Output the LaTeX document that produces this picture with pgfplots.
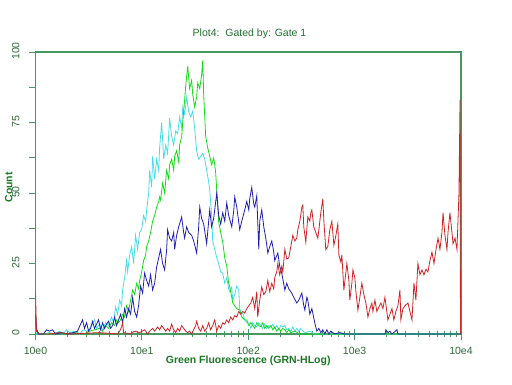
\documentclass[border=0pt]{standalone}
\usepackage{fontspec}
\setmainfont{Liberation Sans}
\usepackage{pgfplots}
\pgfplotsset{compat=1.18}
\definecolor{framecol}{RGB}{72,150,96}
\definecolor{tickcol}{RGB}{45,105,55}
\definecolor{titlecol}{RGB}{35,110,45}
\definecolor{labcol}{RGB}{25,120,35}
\definecolor{sgreen}{RGB}{20,220,20}
\definecolor{scyan}{RGB}{70,220,235}
\definecolor{sblue}{RGB}{30,30,175}
\definecolor{sred}{RGB}{205,35,35}
\newcommand{\fsz}{\fontsize{10.5pt}{12pt}\selectfont}
\begin{document}
\begin{tikzpicture}
\path[use as bounding box] (0pt,0pt) rectangle (512pt,384pt);
\begin{axis}[
  at={(35.5pt,50pt)}, anchor=south west,
  scale only axis, width=425.5pt, height=282pt,
  xmin=0, xmax=4, ymin=0, ymax=100,
  /pgf/number format/assume math mode=true,
  axis line style={draw=framecol, line width=1.2pt},
  xtick={0,1,2,3,4},
  xticklabels={10e0,10e1,10e2,10e3,10e4},
  minor xtick={0.301,0.477,0.602,0.699,0.778,0.845,0.903,0.954,
               1.301,1.477,1.602,1.699,1.778,1.845,1.903,1.954,
               2.301,2.477,2.602,2.699,2.778,2.845,2.903,2.954,
               3.301,3.477,3.602,3.699,3.778,3.845,3.903,3.954},
  ytick={0,25,50,75,100},
  minor ytick={12.5,37.5,62.5,87.5},
  xtick pos=bottom, ytick pos=left,
  xtick align=center, ytick align=outside,
  x tick style={draw=framecol, line width=0.8pt},
  y tick style={draw=framecol, line width=0.8pt},
  major tick length=6pt, minor tick length=6pt,
  extra x ticks={0,1,2,3,4},
  extra x tick labels={},
  extra x tick style={major tick length=11pt, tick align=center},
  xticklabel style={font=\fsz, text=tickcol, anchor=base, yshift=-17pt},
  yticklabel style={font=\fsz, text=tickcol, xshift=-10pt, yshift=1pt, rotate=90, anchor=base},
  title={Plot4:\ \ Gated by: Gate 1},
  title style={font=\fsz, text=titlecol, at={(axis description cs:0.503,1)}, anchor=base, yshift=10pt},
  xlabel={Green Fluorescence (GRN-HLog)},
  every axis x label/.style={at={(axis description cs:0.5,0)}, anchor=base, yshift=-29pt, font=\fsz\bfseries, text=labcol},
  ylabel={Count},
  every axis y label/.style={at={(axis description cs:0,0.52)}, xshift=-23pt, rotate=90, anchor=base, font=\fsz\bfseries, text=labcol},
]
% cyan
\addplot[color=scyan, line width=0.8pt] coordinates {
(0,3) (0.009,0) (0.085,0) (0.132,0.5) (0.179,0) (0.226,1) (0.254,0) (0.292,1.5) (0.320,0.5) (0.367,1)
(0.414,0) (0.452,1.5) (0.489,1) (0.527,3) (0.555,5) (0.574,2) (0.602,3.5) (0.631,1.5) (0.659,4) (0.687,3)
(0.715,6) (0.734,4) (0.753,9.6) (0.772,7) (0.791,12) (0.809,10) (0.819,15.6) (0.838,20) (0.856,26) (0.866,22)
(0.885,28) (0.904,31) (0.922,25) (0.941,35) (0.960,30) (0.979,36) (0.998,37) (1.016,42) (1.035,40) (1.045,44)
(1.064,50) (1.073,58) (1.092,52) (1.101,63) (1.120,55) (1.139,62) (1.158,58) (1.167,66) (1.186,75) (1.205,62)
(1.224,67) (1.242,64) (1.261,76.5) (1.280,70) (1.299,67) (1.318,72) (1.336,71) (1.355,77) (1.374,73) (1.384,80.5)
(1.402,78) (1.421,84) (1.440,79) (1.459,77) (1.478,79) (1.496,73) (1.515,65) (1.534,62) (1.553,63) (1.572,64)
(1.591,62) (1.609,58) (1.628,54) (1.638,51) (1.656,42) (1.666,33) (1.685,30) (1.704,27) (1.722,25) (1.741,22)
(1.760,21.6) (1.779,18) (1.798,20) (1.816,16) (1.826,15) (1.845,16.7) (1.854,12) (1.873,14) (1.892,17) (1.911,15.6)
(1.920,9) (1.929,7.8) (1.948,7.4) (1.967,5) (1.986,4) (2.005,3.9) (2.024,2) (2.042,4) (2.061,3) (2.080,2.5)
(2.099,4) (2.118,3) (2.136,2) (2.155,3.5) (2.174,2) (2.193,3) (2.212,2.5) (2.231,3.5) (2.249,2) (2.268,3)
(2.287,1.5) (2.306,3) (2.325,2.5) (2.344,3) (2.362,1.5) (2.381,2) (2.400,1) (2.419,2.5) (2.438,1) (2.456,2)
(2.475,1) (2.494,2) (2.513,1) (2.541,0.5) (2.579,1) (2.626,0) (4,0)
};
% green
\addplot[color=sgreen, line width=0.8pt] coordinates {
(0,8) (0.009,1) (0.038,0) (0.132,0) (0.226,0.5) (0.273,0) (0.367,0.5) (0.461,0) (0.508,1) (0.555,1.5)
(0.602,2) (0.631,1) (0.659,3) (0.687,2) (0.715,4) (0.744,3) (0.762,5) (0.781,4) (0.800,5) (0.819,7)
(0.838,6) (0.856,10) (0.875,8) (0.894,12) (0.913,15.6) (0.932,14) (0.951,18) (0.969,16) (0.979,19) (0.998,22)
(1.016,26) (1.035,28) (1.045,31) (1.064,33) (1.082,36) (1.101,40) (1.120,42) (1.139,45) (1.158,47) (1.167,48.6)
(1.176,47.5) (1.195,53.5) (1.214,50) (1.233,58) (1.252,55) (1.261,60) (1.280,62) (1.299,58) (1.308,63) (1.327,65)
(1.346,61) (1.355,67) (1.374,70) (1.384,75) (1.402,83) (1.412,88) (1.431,95) (1.449,87) (1.468,90) (1.478,85)
(1.496,80.5) (1.515,84) (1.525,89) (1.544,87) (1.562,92) (1.572,97) (1.581,85) (1.600,70) (1.619,66) (1.638,63)
(1.656,60) (1.675,62.4) (1.685,60) (1.694,57) (1.704,51) (1.713,45) (1.722,39.7) (1.741,36) (1.760,32.6) (1.779,27)
(1.798,24) (1.816,18) (1.826,16.7) (1.845,13) (1.854,11) (1.873,10) (1.892,9) (1.920,8.5) (1.939,6) (1.967,5)
(1.986,5) (2.005,3) (2.024,4) (2.042,3) (2.061,2) (2.080,4) (2.099,3) (2.118,2.5) (2.136,4) (2.155,2)
(2.174,3) (2.193,2) (2.212,3) (2.231,1.5) (2.249,2.5) (2.268,1) (2.287,2) (2.306,1) (2.325,2) (2.344,1.5)
(2.362,0.5) (2.381,1.5) (2.400,0.5) (2.438,1) (2.485,0) (4,0)
};
% blue
\addplot[color=sblue, line width=0.8pt] coordinates {
(0,7) (0.009,2) (0.028,0) (0.075,0) (0.104,1.5) (0.132,1) (0.160,1.5) (0.188,0) (0.245,0.5) (0.301,0)
(0.358,0.5) (0.395,1) (0.424,3.5) (0.442,5) (0.461,2) (0.480,4) (0.499,1) (0.518,2) (0.536,4.5) (0.555,2)
(0.574,3.5) (0.593,5) (0.612,1.5) (0.631,4) (0.649,2) (0.668,3.5) (0.687,4.5) (0.706,2) (0.725,3) (0.744,6)
(0.762,3) (0.781,5) (0.800,7) (0.819,4) (0.838,9) (0.856,6) (0.875,9) (0.894,7) (0.913,13) (0.932,8)
(0.951,6) (0.969,10) (0.988,17) (1.007,14.5) (1.026,21.6) (1.045,19) (1.064,17) (1.082,21) (1.101,15.6) (1.120,18)
(1.139,23.8) (1.158,27) (1.176,30) (1.195,25) (1.214,22.7) (1.233,30) (1.242,37) (1.261,34) (1.280,33) (1.299,36)
(1.308,30) (1.327,35) (1.346,38) (1.374,41.5) (1.393,36) (1.402,34) (1.421,38) (1.440,36) (1.468,35) (1.487,33)
(1.515,28.7) (1.534,38) (1.544,45) (1.562,41) (1.581,39) (1.609,32) (1.628,40) (1.638,44) (1.656,38) (1.675,41)
(1.704,50) (1.722,42) (1.741,39) (1.760,43) (1.779,40) (1.798,46.5) (1.816,42) (1.845,38) (1.864,44) (1.873,48.6)
(1.892,45) (1.920,37) (1.939,40) (1.967,44) (1.986,47) (2.005,44) (2.014,48) (2.033,52) (2.052,46) (2.061,45)
(2.080,49) (2.099,30) (2.108,40) (2.127,44) (2.146,38) (2.165,34) (2.184,28.7) (2.202,31) (2.221,33) (2.240,29)
(2.249,26) (2.278,28.7) (2.296,24) (2.315,21.6) (2.344,15.6) (2.362,18) (2.381,16) (2.409,14.5) (2.428,13) (2.456,11)
(2.475,12) (2.504,14.5) (2.522,10) (2.532,8.5) (2.551,13) (2.560,12) (2.579,7) (2.598,9) (2.626,3.9) (2.645,1)
(2.664,2) (2.682,0.5) (2.701,1.5) (2.720,0) (2.739,1.5) (2.758,0) (2.776,1) (2.814,0) (2.861,0.5) (2.908,0)
(3.285,0) (3.294,1.5) (3.313,0.5) (3.332,1) (3.351,0) (3.398,1.5) (3.407,0) (4,0)
};
% red
\addplot[color=sred, line width=0.8pt] coordinates {
(0,15) (0.009,1) (0.038,0) (0.132,0) (0.226,0.5) (0.320,0) (0.602,0.5) (0.772,0) (0.791,1) (0.809,2.5)
(0.819,4) (0.828,0.5) (0.885,0) (0.932,1) (0.979,0.5) (1.026,1.5) (1.054,0) (1.073,1) (1.101,2) (1.120,1)
(1.148,2.5) (1.167,1.5) (1.186,3) (1.205,2) (1.224,1) (1.242,2) (1.261,1) (1.280,3.5) (1.299,1.5) (1.318,0.5)
(1.336,2) (1.355,1) (1.374,3) (1.393,2) (1.412,1) (1.431,0.5) (1.449,1) (1.468,0) (1.487,1.5) (1.506,3)
(1.515,4.5) (1.534,2) (1.553,1) (1.572,3) (1.591,1) (1.609,2) (1.628,4) (1.647,1.5) (1.666,3) (1.685,5)
(1.704,1) (1.722,3) (1.741,2) (1.760,4) (1.779,3.5) (1.798,5) (1.816,4) (1.835,6) (1.854,5) (1.873,6.5)
(1.892,6) (1.911,8) (1.929,7) (1.948,8) (1.967,7.4) (1.986,9) (2.005,10) (2.024,11) (2.042,13) (2.061,9)
(2.080,15) (2.089,6) (2.108,12) (2.127,16.7) (2.146,14) (2.165,15) (2.184,19) (2.202,15) (2.221,18) (2.240,16)
(2.249,20) (2.268,22) (2.278,25) (2.296,21) (2.315,24) (2.325,22) (2.344,30) (2.362,26.6) (2.381,27) (2.400,31)
(2.419,35) (2.438,33) (2.456,34) (2.466,37) (2.485,40) (2.504,45) (2.513,45.7) (2.522,38) (2.541,32.6) (2.560,41.5)
(2.579,40) (2.588,43) (2.598,44) (2.616,38) (2.635,36) (2.654,34) (2.664,37) (2.682,43) (2.701,48) (2.711,40)
(2.729,30) (2.748,31) (2.767,37) (2.786,40) (2.805,31.5) (2.824,35) (2.842,39) (2.852,28) (2.871,25.5) (2.880,28)
(2.899,15.6) (2.927,25) (2.946,19) (2.955,12) (2.974,18) (2.984,22.7) (3.002,20) (3.012,15) (3.031,8.5) (3.049,13)
(3.068,18) (3.087,14) (3.106,11) (3.125,6) (3.144,9) (3.162,11) (3.172,8) (3.191,12) (3.209,8) (3.228,9.6)
(3.247,11) (3.266,9) (3.285,13) (3.313,5) (3.332,7) (3.351,9) (3.369,5) (3.388,8) (3.407,10) (3.426,15.6)
(3.435,5) (3.454,9) (3.473,10) (3.501,11) (3.520,8) (3.539,5) (3.558,18) (3.576,12) (3.595,25) (3.614,21)
(3.633,22.7) (3.652,21) (3.671,23) (3.689,22) (3.708,26) (3.727,29) (3.746,25) (3.765,30) (3.784,34) (3.802,30)
(3.821,36) (3.831,43) (3.849,35) (3.868,30) (3.878,36) (3.896,43) (3.915,36) (3.925,32) (3.944,34) (3.962,30)
(3.981,50) (3.991,83) (3.995,0)
};
\end{axis}
\end{tikzpicture}
\end{document}
